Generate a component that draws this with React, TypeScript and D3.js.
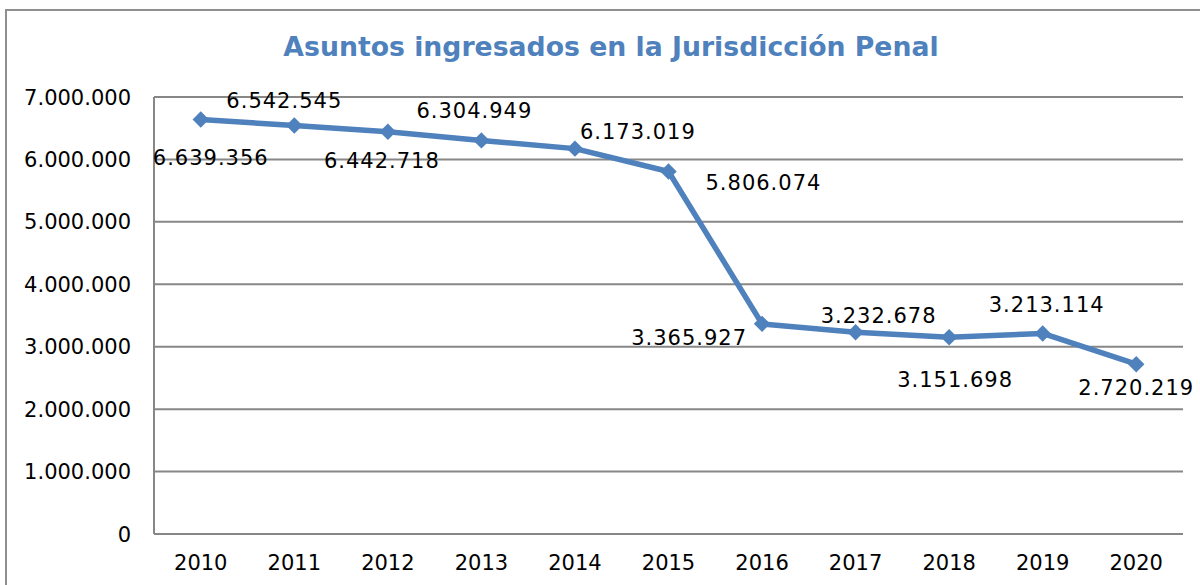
import React from "react";
import * as d3 from "d3";

const years = ["2010","2011","2012","2013","2014","2015","2016","2017","2018","2019","2020"];
const asuntos = [6639356, 6542545, 6442718, 6304949, 6173019, 5806074, 3365927, 3232678, 3151698, 3213114, 2720219];
const yTicks = [0, 1000000, 2000000, 3000000, 4000000, 5000000, 6000000, 7000000];
const title = "Asuntos ingresados en la Jurisdicción Penal";

// label placement relative to each point: [dx, dy, anchor]
const labelPlacement: [number, number, string][] = [
  [10, 45.5, "middle"],
  [-10, -17.5, "middle"],
  [-6, 36, "middle"],
  [-7, -22, "middle"],
  [5, -10, "start"],
  [37, 18.5, "start"],
  [-15, 21, "end"],
  [23, -9, "middle"],
  [6, 50, "middle"],
  [4, -21, "middle"],
  [0, 31, "middle"],
];

const W = 1200, H = 585;
const left = 154, right = 1183, top = 97, bottom = 534;
const BLUE = "#4F81BD";
const GRID = "#878787";
const FONT = "'DejaVu Sans', Verdana, sans-serif";

const locale = d3.formatLocale({ decimal: ",", thousands: ".", grouping: [3], currency: ["", "€"] });
const fmt = locale.format(",d");

export default function App() {
  const x = d3.scaleBand<string>().domain(years).range([left, right]);
  const y = d3.scaleLinear().domain([0, 7000000]).range([bottom, top]);
  const cx = (d: string) => (x(d) as number) + x.bandwidth() / 2;
  const line = d3.line<number>().x((_, i) => cx(years[i])).y((v) => y(v));
  const marker = d3.symbol().type(d3.symbolSquare).size(135)();

  return (
    <svg width={W} height={H} style={{ position: "absolute", left: 0, top: 0, background: "#fff" }} fontFamily={FONT}>
      <rect x={6} y={10} width={1300} height={700} fill="none" stroke="#8f8f8f" strokeWidth={2} />
      <text x={611} y={56} textAnchor="middle" fill={BLUE} fontWeight="bold" fontSize={26.7}>{title}</text>
      {yTicks.map((t) => (
        <g key={t}>
          {t > 0 && <line x1={left} x2={right} y1={y(t)} y2={y(t)} stroke={GRID} strokeWidth={2} />}
          <text x={131} y={y(t) + 7.5} textAnchor="end" fontSize={21} fill="#000">{fmt(t)}</text>
        </g>
      ))}
      <line x1={left} x2={left} y1={top} y2={bottom} stroke={GRID} strokeWidth={2} />
      <line x1={left} x2={right} y1={bottom} y2={bottom} stroke={GRID} strokeWidth={2} />
      {years.map((yr) => (
        <text key={yr} x={cx(yr)} y={570} textAnchor="middle" fontSize={21} fill="#000">{yr}</text>
      ))}
      <path d={line(asuntos) || ""} fill="none" stroke={BLUE} strokeWidth={5.5} strokeLinejoin="round" />
      {asuntos.map((v, i) => (
        <path key={i} d={marker || ""} transform={`translate(${cx(years[i])},${y(v)}) rotate(45)`} fill={BLUE} />
      ))}
      {asuntos.map((v, i) => {
        const [dx, dy, anchor] = labelPlacement[i];
        return (
          <text key={"l" + i} x={cx(years[i]) + dx} y={y(v) + dy} textAnchor={anchor as any} fontSize={21} letterSpacing={1} fill="#000">
            {fmt(v)}
          </text>
        );
      })}
    </svg>
  );
}
